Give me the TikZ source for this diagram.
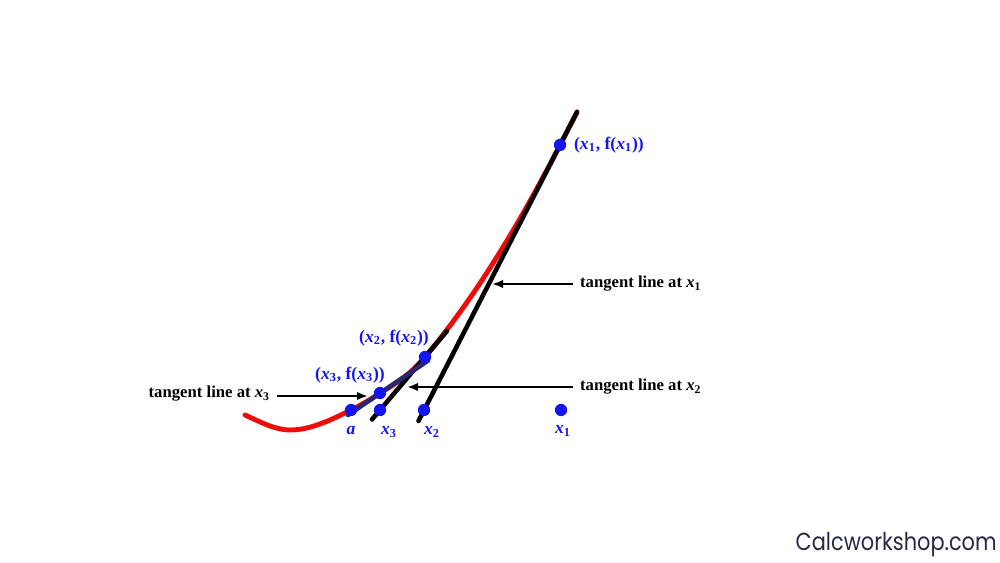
\documentclass[tikz,border=0pt]{standalone}
\usepackage{fontspec}
\setmainfont{Liberation Serif}
\newfontfamily\brandfont[FakeStretch=0.85]{Poppins}
\usetikzlibrary{arrows.meta}
\definecolor{newtonRed}{RGB}{240, 10, 10}
\definecolor{newtonBlue}{RGB}{20, 20, 240}
\definecolor{newtonNavy}{RGB}{40, 40, 110}
\definecolor{newtonBrand}{RGB}{40, 40, 70}

\begin{document}
\begin{tikzpicture}[
  x=0.02cm, y=-0.02cm,
  ptdot/.style={
    circle,
    fill=newtonBlue,
    inner sep=0pt,
    minimum size=7pt
  },
  ptlabel/.style={
    text=newtonBlue,
    inner sep=1pt,
    font=\fontsize{10}{12}\selectfont\bfseries
  },
  tanlabel/.style={
    inner sep=1pt,
    font=\fontsize{9.5}{11}\selectfont\bfseries
  },
  tangent/.style={line width=2.6pt,line cap=round},
  arrow/.style={-{Latex[length=2.2mm,width=1.7mm]},line width=1.5pt,shorten <=3pt}
]
  \useasboundingbox (0,0) rectangle (1000,563);
  % the function
  \draw[newtonRed,line width=2.8pt,line cap=round]
    (245,415) .. controls (260,421.8) and (275,430) .. (290,430)
    .. controls (310.3,430) and (330.7,420.2) .. (351,410)
    .. controls (360.7,405.2) and (370.3,399.6) .. (380,393)
    .. controls (395,384.2) and (410,374.7) .. (425,357)
    .. controls (470,303.9) and (515,232.8) .. (560,145)
    .. controls (565.3,134.6) and (571.7,122.9) .. (577,112);
  % tangent lines
  \coordinate (t1top) at (577,112);
  \coordinate (t1bot) at (418.5,421);
  \coordinate (t2top) at (447,331);
  \coordinate (t2bot) at (372,419.5);
  \coordinate (t3top) at (428,360.6);
  \coordinate (t3bot) at (348,415);
  \draw[tangent] (t1top) -- (t1bot);
  \draw[tangent] (t2top) -- (t2bot);
  \draw[tangent,newtonNavy] (t3top) -- (t3bot);
  % points on the curve and on the axis
  \node[ptdot] (p1) at (560,145) {};
  \node[ptdot] (p2) at (425,357) {};
  \node[ptdot] (p3) at (380,393) {};
  \node[ptdot] (a) at (351,410) {};
  \node[ptdot] (x3) at (380,410) {};
  \node[ptdot] (x2) at (424,410) {};
  \node[ptdot] (x1) at (561,410) {};
  \node[ptlabel,anchor=west] (p1lab) at (572,145)
    {(\textit{x}\textsubscript{1}, f(\textit{x}\textsubscript{1}))};
  \node[ptlabel] (p2lab) at (394,338)
    {(\textit{x}\textsubscript{2}, f(\textit{x}\textsubscript{2}))};
  \node[ptlabel] (p3lab) at (350,375)
    {(\textit{x}\textsubscript{3}, f(\textit{x}\textsubscript{3}))};
  \node[ptlabel] (alab) at (351,430) {\textit{a}};
  \node[ptlabel] (x3lab) at (389,432) {\textit{x}\textsubscript{3}};
  \node[ptlabel] (x2lab) at (432,432) {\textit{x}\textsubscript{2}};
  \node[ptlabel] (x1lab) at (563,431) {\textit{x}\textsubscript{1}};
  % labels of the tangent lines
  \coordinate (t1hit) at (492,284);
  \coordinate (t2hit) at (407,387);
  \coordinate (t3hit) at (368,396);
  \node[tanlabel,anchor=west] (t1lab) at (578,284)
    {tangent line at \textit{x}\textsubscript{1}};
  \node[tanlabel,anchor=west] (t2lab) at (578,387)
    {tangent line at \textit{x}\textsubscript{2}};
  \node[tanlabel,anchor=east] (t3lab) at (272,394)
    {tangent line at \textit{x}\textsubscript{3}};
  \draw[arrow] (t1lab.west) -- (t1hit);
  \draw[arrow] (t2lab.west) -- (t2hit);
  \draw[arrow] (t3lab.east |- t3hit) -- (t3hit);
  % brand
  \node[text=newtonBrand,font=\brandfont\fontsize{14}{16}\selectfont,
    anchor=east,inner sep=0pt] (brand) at (997,545) {Calcworkshop.com};
\end{tikzpicture}
\end{document}
